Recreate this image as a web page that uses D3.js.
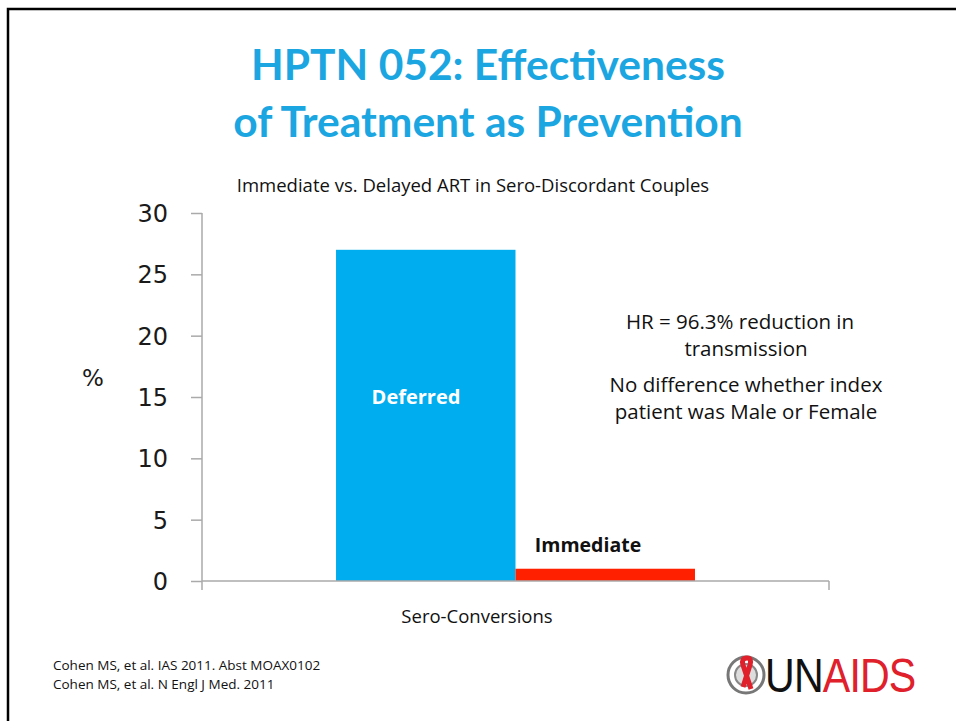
<!DOCTYPE html>
<html><head><meta charset="utf-8">
<script src="https://cdn.jsdelivr.net/npm/d3@7"></script>
<style>body{margin:0;background:#fff}</style>
</head><body>
<script>
const categories = ["Sero-Conversions"];
const seriesNames = ["Deferred", "Immediate"];
const seriesValues = [27, 1];
const yTicks = [0, 5, 10, 15, 20, 25, 30];
const titleLines = ["HPTN 052: Effectiveness", "of Treatment as Prevention"];
const subtitle = "Immediate vs. Delayed ART in Sero-Discordant Couples";
const notes = ["HR = 96.3% reduction in", "transmission", "No difference whether index", "patient was Male or Female"];
const refs = ["Cohen MS, et al. IAS 2011. Abst MOAX0102", "Cohen MS, et al. N Engl J Med. 2011"];

const W = 956, H = 721;
const svg = d3.select("body").append("svg").attr("width", W).attr("height", H);
svg.append("rect").attr("width", W).attr("height", H).attr("fill", "#fff");
svg.append("rect").attr("x", 8).attr("y", 9).attr("width", 980).attr("height", 760)
  .attr("fill", "none").attr("stroke", "#000").attr("stroke-width", 2.5);

const ttl = "'Lato', 'Open Sans', sans-serif";
svg.selectAll("text.title").data(titleLines).join("text").attr("class","title")
  .attr("x", 488).attr("y", (d,i) => 80 + i*57).attr("text-anchor","middle")
  .attr("font-family", ttl).attr("font-weight", 700).attr("font-size", 42.5)
  .attr("fill", "#1ba6e2").text(d => d);

const body = "'Open Sans', 'DejaVu Sans', sans-serif";
svg.append("text").attr("x", 473).attr("y", 192).attr("text-anchor","middle")
  .attr("font-family", body).attr("font-size", 18.5).attr("fill","#111").text(subtitle);

const x0 = d3.scaleBand().domain(categories).range([202, 829]);
const y = d3.scaleLinear().domain([0, 30]).range([581, 213]);
const x1 = d3.scaleBand().domain(seriesNames).range([0, 627*0.5725]).padding(0);
const colors = {"Deferred": "#00adef", "Immediate": "#ff2000"};

// bars
const g = svg.append("g");
const cat = categories[0];
const groupW = x1.range()[1];
const gx = x0(cat) + (x0.bandwidth() - groupW)/2;
g.selectAll("rect").data(seriesNames.map((s,i)=>({s, v: seriesValues[i]}))).join("rect")
  .attr("x", d => gx + x1(d.s)).attr("width", x1.bandwidth())
  .attr("y", d => y(d.v)).attr("height", d => y(0) - y(d.v))
  .attr("fill", d => colors[d.s]);

// axes
const ya = svg.append("g").attr("transform","translate(202,0)")
  .call(d3.axisLeft(y).tickValues(yTicks).tickSize(11).tickPadding(23));
ya.select(".domain").attr("stroke","#aaa").attr("stroke-width",1.5).attr("d","M0,213V590");
ya.selectAll(".tick line").attr("stroke","#aaa").attr("stroke-width",1.5);
ya.selectAll(".tick text").attr("font-family","'DejaVu Sans', sans-serif").attr("font-size",24).attr("fill","#1a1a1a").attr("dy","0.36em");

svg.append("line").attr("x1",202).attr("x2",829).attr("y1",y(0)).attr("y2",y(0)).attr("stroke","#aaa").attr("stroke-width",1.5);
svg.append("line").attr("x1",829).attr("x2",829).attr("y1",y(0)).attr("y2",y(0)+9).attr("stroke","#aaa").attr("stroke-width",1.5);

svg.append("text").attr("x", 93).attr("y", 386).attr("text-anchor","middle")
  .attr("font-family","'DejaVu Sans', sans-serif").attr("font-size",23).attr("fill","#1a1a1a").text("%");

// bar labels
svg.append("text").attr("x", 416).attr("y", 404).attr("text-anchor","middle")
  .attr("font-family", body).attr("font-weight",700).attr("font-size",20).attr("fill","#fff").text("Deferred");
svg.append("text").attr("x", 588).attr("y", 552).attr("text-anchor","middle")
  .attr("font-family", body).attr("font-weight",700).attr("font-size",19.5).attr("fill","#111").text("Immediate");

svg.append("text").attr("x", 477).attr("y", 623).attr("text-anchor","middle")
  .attr("font-family", body).attr("font-size",18.5).attr("fill","#111").text(cat);

svg.selectAll("text.note").data(notes).join("text").attr("class","note")
  .attr("x", (d,i) => i === 0 ? 740 : 746).attr("y", (d,i) => [329,356,392,419][i]).attr("text-anchor","middle")
  .attr("font-family", body).attr("font-size",20.5).attr("fill","#111").text(d => d);

svg.selectAll("text.ref").data(refs).join("text").attr("class","ref")
  .attr("x", 53).attr("y", (d,i) => 670 + i*19)
  .attr("font-family", body).attr("font-size",13.5).attr("fill","#111").text(d => d);

// UNAIDS logo
const lg = svg.append("g").attr("transform","translate(746,675)");
lg.append("circle").attr("r",18).attr("fill","#fff").attr("stroke","#777").attr("stroke-width",3);
lg.append("circle").attr("r",11).attr("fill","#ddd").attr("stroke","#888").attr("stroke-width",2);
lg.append("path").attr("d","M-3,12 L4,-10 Q6,-17 1,-17 Q-5,-17 -3,-10 L5,14").attr("fill","none")
  .attr("stroke","#e0202b").attr("stroke-width",5);
const lt = svg.append("g").attr("transform","translate(765,692) scale(0.84,1)")
  .append("text").attr("x", 0).attr("y", 0)
  .attr("font-family","'Liberation Sans', sans-serif").attr("font-size",49).attr("letter-spacing",-1);
lt.append("tspan").attr("fill","#111").text("UN");
lt.append("tspan").attr("fill","#e0202b").text("AIDS");
</script>
</body></html>
